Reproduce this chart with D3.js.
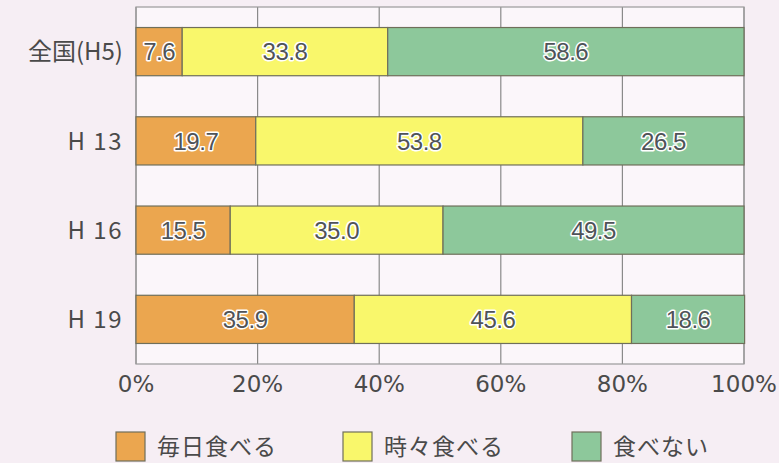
<!DOCTYPE html>
<html>
<head>
<meta charset="utf-8">
<script src="https://cdn.jsdelivr.net/npm/d3@7"></script>
<style>
  html, body { margin: 0; padding: 0; background: #f6eef4; }
  svg { display: block; font-family: "Noto Sans CJK JP", "Noto Sans", sans-serif; }
</style>
</head>
<body>
<svg id="chart" width="779" height="463"></svg>
<script>
// Survey years and the share (%) in each eating-frequency group
const categories = ["全国(H5)", "H 13", "H 16", "H 19"];
const seriesNames = ["毎日食べる", "時々食べる", "食べない"];
const daily     = [7.6, 19.7, 15.5, 35.9];
const sometimes = [33.8, 53.8, 35.0, 45.6];
const never     = [58.6, 26.5, 49.5, 18.6];
const tickValues = [0, 20, 40, 60, 80, 100];

const colors = ["#eba64f", "#f9f76b", "#8dc89b"];

const svg = d3.select("#chart");
const margin = { left: 136, right: 35, top: 7, bottom: 99 };
const W = 779, H = 463;

const x = d3.scaleLinear().domain([0, 100]).range([margin.left, W - margin.right]);
const y = d3.scaleBand().domain(categories).range([margin.top, H - margin.bottom]).paddingInner(0.46).paddingOuter(0.23);

// plot background
svg.append("rect")
  .attr("x", x(0)).attr("y", margin.top)
  .attr("width", x(100) - x(0)).attr("height", H - margin.bottom - margin.top)
  .attr("fill", "#fbf6fa");

// vertical gridlines
svg.append("g").selectAll("line").data(tickValues).join("line")
  .attr("x1", d => x(d)).attr("x2", d => x(d))
  .attr("y1", margin.top).attr("y2", H - margin.bottom)
  .attr("stroke", "#8a8a8a").attr("stroke-width", 1.2);

// top / bottom frame
svg.append("rect")
  .attr("x", x(0)).attr("y", margin.top)
  .attr("width", x(100) - x(0)).attr("height", H - margin.bottom - margin.top)
  .attr("fill", "none").attr("stroke", "#9a9a9a").attr("stroke-width", 1.2);

// stacked segments
const rows = categories.map((c, i) => ({ cat: c, vals: [daily[i], sometimes[i], never[i]] }));
const segs = [];
rows.forEach(r => {
  let acc = 0;
  r.vals.forEach((v, k) => { segs.push({ cat: r.cat, k, v, x0: acc, x1: acc + v }); acc += v; });
});

svg.append("g").selectAll("rect").data(segs).join("rect")
  .attr("x", d => x(d.x0)).attr("y", d => y(d.cat))
  .attr("width", d => x(d.x1) - x(d.x0)).attr("height", y.bandwidth())
  .attr("fill", d => colors[d.k])
  .attr("stroke", "#6f6f5a").attr("stroke-width", 1.2);

// value labels with white halo
svg.append("g").selectAll("text").data(segs).join("text")
  .attr("x", d => (x(d.x0) + x(d.x1)) / 2)
  .attr("y", d => y(d.cat) + y.bandwidth() / 2)
  .attr("dy", "0.36em")
  .attr("text-anchor", "middle")
  .attr("font-family", "Liberation Sans, Arial, sans-serif")
  .attr("font-size", 24)
  .attr("letter-spacing", "-0.5")
  .attr("fill", "#4f5358")
  .attr("stroke", "#ffffff").attr("stroke-width", 3).attr("paint-order", "stroke")
  .attr("stroke-linejoin", "round")
  .text(d => d.v.toFixed(1));

// category labels
svg.append("g").selectAll("text").data(categories).join("text")
  .attr("x", 123)
  .attr("y", d => y(d) + y.bandwidth() / 2)
  .attr("dy", "0.36em")
  .attr("text-anchor", "end")
  .attr("font-size", 24)
  .attr("letter-spacing", (d, i) => i === 0 ? "0" : "1.5")
  .attr("fill", "#4a4a4a")
  .text(d => d);

// x tick labels
svg.append("g").selectAll("text").data(tickValues).join("text")
  .attr("x", d => x(d))
  .attr("y", 392)
  .attr("text-anchor", "middle")
  .attr("font-family", "DejaVu Sans, sans-serif")
  .attr("font-size", 23)
  .attr("fill", "#4a4a4a")
  .text(d => d + "%");

// legend
const legendX = [116, 343, 572];
const lg = svg.append("g").selectAll("g").data(seriesNames).join("g")
  .attr("transform", (d, i) => `translate(${legendX[i]},432)`);
lg.append("rect").attr("width", 29).attr("height", 29)
  .attr("fill", (d, i) => colors[i]).attr("stroke", "#6f6f5a").attr("stroke-width", 1.2);
lg.append("text").attr("x", 41).attr("y", 15).attr("dy", "0.36em")
  .attr("font-size", 23).attr("fill", "#4a4a4a").attr("letter-spacing", "1")
  .text(d => d);
</script>
</body>
</html>
